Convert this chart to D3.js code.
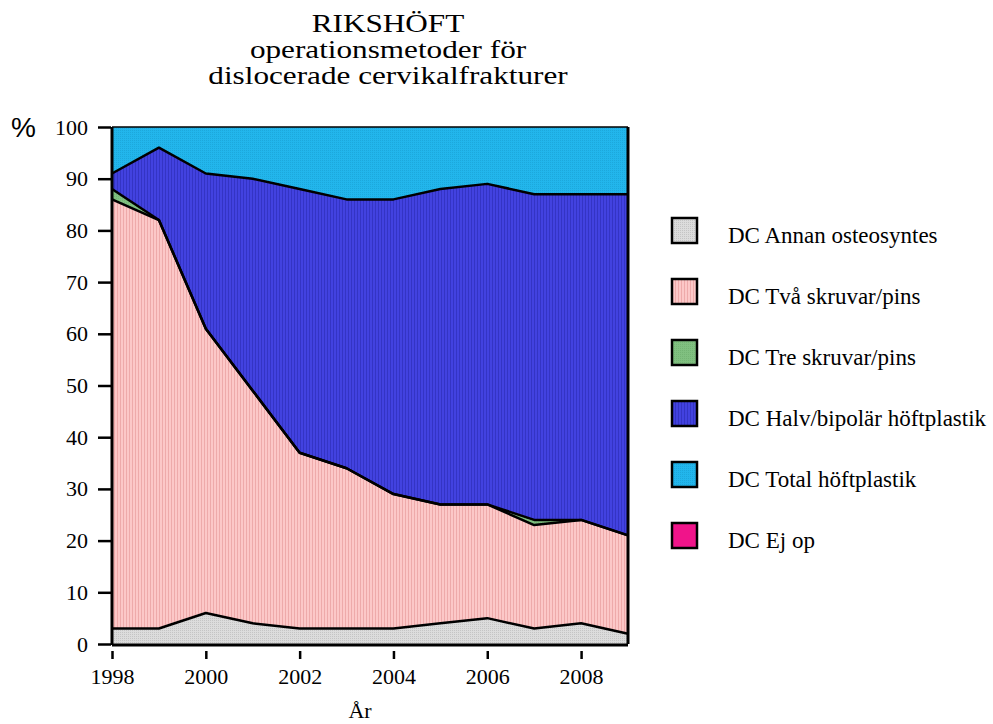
<!DOCTYPE html>
<html>
<head>
<meta charset="utf-8">
<script src="https://cdn.jsdelivr.net/npm/d3@7"></script>
<style>
  body { margin: 0; background: #fff; }
  svg text { font-family: "Liberation Serif", "Times New Roman", serif; fill: #000; }
</style>
</head>
<body>
<div id="chart"></div>
<script>
// values (% per year)
const years = [1998, 1999, 2000, 2001, 2002, 2003, 2004, 2005, 2006, 2007, 2008, 2009];
const annan = [3, 3, 6, 4, 3, 3, 3, 4, 5, 3, 4, 2];
const tva   = [83, 79, 55, 45, 34, 31, 26, 23, 22, 20, 20, 19];
const tre   = [2, 0, 0, 0, 0, 0, 0, 0, 0, 1, 0, 0];
const halv  = [3, 14, 30, 41, 51, 52, 57, 61, 62, 63, 63, 66];
const total = [9, 4, 9, 10, 12, 14, 14, 12, 11, 13, 13, 13];
const ejop  = [0, 0, 0, 0, 0, 0, 0, 0, 0, 0, 0, 0];
const seriesNames = ['DC Annan osteosyntes', 'DC Två skruvar/pins', 'DC Tre skruvar/pins',
  'DC Halv/bipolär höftplastik', 'DC Total höftplastik', 'DC Ej op'];
const seriesValues = [annan, tva, tre, halv, total, ejop];
const xTicks = [1998, 2000, 2002, 2004, 2006, 2008];
const yTicks = [0, 10, 20, 30, 40, 50, 60, 70, 80, 90, 100];

const w = 993, h = 724;
const padLeft = 112, padRight = 628, padTop = 127, padBottom = 644;

const rows = years.map((y, i) => {
  const r = {year: y};
  seriesNames.forEach((n, k) => r[n] = seriesValues[k][i]);
  return r;
});

const svg = d3.select('#chart').append('svg')
  .attr('width', w).attr('height', h);

// fill patterns (the original has fine screen textures)
const defs = svg.append('defs');
function pattern(id, base, mark, kind) {
  const p = defs.append('pattern').attr('id', id)
    .attr('patternUnits', 'userSpaceOnUse')
    .attr('width', kind === 'lines' ? 3 : 2).attr('height', kind === 'lines' ? 3 : 2);
  p.append('rect').attr('width', 3).attr('height', 3).attr('fill', base);
  if (kind === 'lines') p.append('rect').attr('width', 1).attr('height', 3).attr('fill', mark);
  else if (kind === 'dots') p.append('rect').attr('width', 1).attr('height', 1).attr('fill', mark);
  return 'url(#' + id + ')';
}
const fills = [
  pattern('p0', '#dcdcdc', '#c4c4c4', 'dots'),
  pattern('p1', '#fcc8c8', '#eeaaaa', 'lines'),
  pattern('p2', '#80c080', '#74b474', 'dots'),
  pattern('p3', '#4242e0', '#3434c4', 'lines'),
  pattern('p4', '#22b6ec', '#1ca8dc', 'dots'),
  '#f0148a'
];

const xScale = d3.scaleLinear().domain([1998, 2009]).range([padLeft, padRight]);
const yScale = d3.scaleLinear().domain([0, 100]).range([padBottom, padTop]);

const stack = d3.stack().keys(seriesNames);
const layers = stack(rows);

const area = d3.area()
  .x(d => xScale(d.data.year))
  .y0(d => yScale(d[0]))
  .y1(d => yScale(d[1]));
const topLine = d3.line()
  .x(d => xScale(d.data.year))
  .y(d => yScale(d[1]));

svg.selectAll('path.layer')
  .data(layers)
  .enter()
  .append('path')
  .attr('class', 'layer')
  .attr('d', area)
  .attr('fill', (d, i) => fills[i]);

// black boundary lines between layers
svg.selectAll('path.edge')
  .data(layers.slice(0, 4))
  .enter()
  .append('path')
  .attr('class', 'edge')
  .attr('d', topLine)
  .attr('fill', 'none')
  .attr('stroke', '#000')
  .attr('stroke-width', 2.5)
  .attr('stroke-linejoin', 'round');

// frame
svg.append('line').attr('x1', padLeft).attr('x2', padRight).attr('y1', padTop).attr('y2', padTop)
  .attr('stroke', '#000').attr('stroke-width', 1.5);
svg.append('line').attr('x1', padRight).attr('x2', padRight).attr('y1', padTop).attr('y2', padBottom)
  .attr('stroke', '#000').attr('stroke-width', 3);

// y-Axis
const yAxis = d3.axisLeft(yScale).tickValues(yTicks).tickSize(14).tickPadding(10)
  .tickFormat(d3.format('d'));
const gy = svg.append('g')
  .attr('transform', 'translate(' + padLeft + ',0)')
  .call(yAxis);

// x-Axis
const xAxis = d3.axisBottom(xScale).tickValues(xTicks).tickSize(14).tickPadding(9)
  .tickFormat(d3.format('d'));
const gx = svg.append('g')
  .attr('transform', 'translate(0,' + (padBottom + 1) + ')')
  .call(xAxis);

[gx, gy].forEach(g => {
  g.select('.domain').attr('stroke', '#000').attr('stroke-width', 3);
  g.selectAll('.tick line').attr('stroke', '#000').attr('stroke-width', 2.5);
  g.selectAll('.tick text').attr('font-size', 22)
    .attr('font-family', '"Liberation Serif", serif').attr('fill', '#000');
});
gx.select('.domain').attr('d', 'M' + padLeft + ',0H' + padRight);
gy.select('.domain').attr('d', 'M0,' + (padBottom + 1) + 'V' + padTop);
gy.selectAll('.tick line').attr('x1', -1);
gx.selectAll('.tick line').attr('y1', 6).attr('y2', 14);

// title (original type is set a little wide)
const title = ['RIKSHÖFT', 'operationsmetoder för', 'dislocerade cervikalfrakturer'];
svg.append('g')
  .attr('transform', 'translate(388,0) scale(1.2,1)')
  .append('text')
  .attr('text-anchor', 'middle')
  .attr('font-size', 26)
  .selectAll('tspan')
  .data(title)
  .enter()
  .append('tspan')
  .attr('x', 0)
  .attr('y', (d, i) => 32 + i * 26)
  .text(d => d);

// axis labels
svg.append('text').text('%')
  .attr('x', 11).attr('y', 137)
  .attr('font-size', 28)
  .style('font-family', '"Liberation Sans", Arial, sans-serif');
svg.append('text').text('År')
  .attr('x', 360).attr('y', 718)
  .attr('text-anchor', 'middle')
  .attr('font-size', 22);

// legend
const legend = svg.selectAll('g.leg')
  .data(seriesNames)
  .enter()
  .append('g')
  .attr('class', 'leg')
  .attr('transform', (d, i) => 'translate(672,' + (218 + i * 61) + ')');
legend.append('rect')
  .attr('width', 25).attr('height', 25)
  .attr('fill', (d, i) => fills[i])
  .attr('stroke', '#000').attr('stroke-width', 2.5);
legend.append('text')
  .text(d => d)
  .attr('x', 56).attr('y', 25)
  .attr('font-size', 23);
</script>
</body>
</html>
